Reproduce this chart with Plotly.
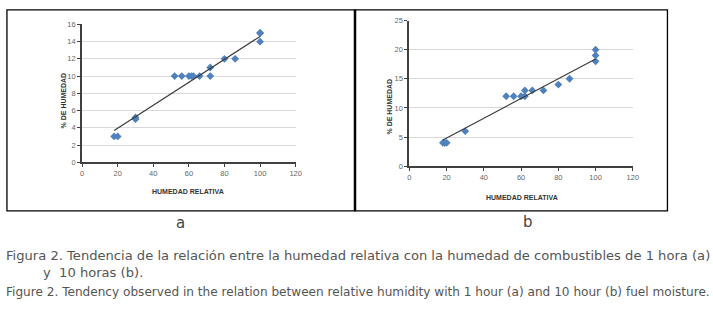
import plotly.graph_objects as go

# ---- data: panel a (1 hour fuel) ----
a_hr = [18, 20, 30, 30, 52, 56, 60, 61.5, 62.5, 66, 72, 72, 80, 86, 100, 100, 100]
a_hum = [3, 3, 5, 5.2, 10, 10, 10, 10, 10, 10, 10, 11, 12, 12, 14, 15, 15]
a_trend_x = [18, 100]
a_trend_y = [3.7, 14.6]

# ---- data: panel b (10 hour fuel) ----
b_hr = [18, 19, 20, 30, 52, 56, 60, 62, 62, 66, 72, 80, 86, 100, 100, 100]
b_hum = [4, 4, 4, 6, 12, 12, 12, 12, 13, 13, 13, 14, 15, 18, 19, 20]
b_trend_x = [18, 100]
b_trend_y = [4.5, 18.4]

x_ticks = [0, 20, 40, 60, 80, 100, 120]
a_y_ticks = [0, 2, 4, 6, 8, 10, 12, 14, 16]
b_y_ticks = [0, 5, 10, 15, 20, 25]

x_title = "HUMEDAD RELATIVA"
y_title = "% DE HUMEDAD"
panel_labels = ["a", "b"]
caption_es_1 = "Figura 2. Tendencia de la relación entre la humedad relativa con la humedad de combustibles de 1 hora (a)"
caption_es_2 = "y  10 horas (b)."
caption_en = "Figure 2. Tendency observed in the relation between relative humidity with 1 hour (a) and 10 hour (b) fuel moisture."

W, H = 713, 311
def px(x):
    return x / W
def py(y):
    return 1 - y / H

MARK = "#4F81BD"
fig = go.Figure()
fig.add_trace(go.Scatter(x=a_hr, y=a_hum, mode="markers", xaxis="x", yaxis="y",
                         marker=dict(symbol="diamond", size=6, color=MARK), showlegend=False))
fig.add_trace(go.Scatter(x=a_trend_x, y=a_trend_y, mode="lines", xaxis="x", yaxis="y",
                         line=dict(color="#3a3a3a", width=1.2), showlegend=False))
fig.add_trace(go.Scatter(x=b_hr, y=b_hum, mode="markers", xaxis="x2", yaxis="y2",
                         marker=dict(symbol="diamond", size=6, color=MARK), showlegend=False))
fig.add_trace(go.Scatter(x=b_trend_x, y=b_trend_y, mode="lines", xaxis="x2", yaxis="y2",
                         line=dict(color="#3a3a3a", width=1.2), showlegend=False))

tickfont = dict(family="Liberation Sans, Arial", size=7.5, color="#666666")
common_x = dict(range=[0, 120], tickvals=x_ticks, showgrid=False, zeroline=False,
                showline=True, linecolor="#404040", linewidth=2, ticks="outside",
                ticklen=3, tickcolor="#404040", tickfont=tickfont, fixedrange=True)
common_y = dict(showgrid=True, gridcolor="#d9d9d9", gridwidth=1, zeroline=False,
                showline=True, linecolor="#404040", linewidth=2, ticks="outside",
                ticklen=3, tickcolor="#404040", tickfont=tickfont, fixedrange=True)

fig.update_layout(
    width=W, height=H, margin=dict(l=0, r=0, t=0, b=0),
    paper_bgcolor="white", plot_bgcolor="white",
    xaxis=dict(domain=[px(81), px(297)], anchor="y", **common_x),
    yaxis=dict(domain=[py(163), py(21)], anchor="x", range=[0, 16], tickvals=a_y_ticks, **common_y),
    xaxis2=dict(domain=[px(412), px(638)], anchor="y2", **common_x),
    yaxis2=dict(domain=[py(167), py(17)], anchor="x2", range=[0, 25], tickvals=b_y_ticks, **common_y),
)

titlefont = dict(family="Liberation Sans, Arial", size=7, color="#333333")
ann = []
ann.append(dict(x=px(188), y=py(193), text="<b>" + x_title + "</b>", font=titlefont))
ann.append(dict(x=px(526), y=py(199), text="<b>" + x_title + "</b>", font=titlefont))
ann.append(dict(x=px(62), y=py(99), text="<b>" + y_title + "</b>", font=titlefont, textangle=-90))
ann.append(dict(x=px(392), y=py(106), text="<b>" + y_title + "</b>", font=titlefont, textangle=-90))
labfont = dict(family="DejaVu Sans, Lato", size=15, color="#444444")
ann.append(dict(x=px(181), y=py(226), text=panel_labels[0], font=labfont))
ann.append(dict(x=px(532), y=py(225), text=panel_labels[1], font=labfont))
capfont1 = dict(family="DejaVu Sans", size=13.1, color="#555555")
capfont2 = dict(family="DejaVu Sans", size=12.1, color="#555555")
ann.append(dict(x=px(2), y=py(259), text=caption_es_1, font=capfont1, xanchor="left"))
ann.append(dict(x=px(39), y=py(277), text=caption_es_2, font=capfont1, xanchor="left"))
ann.append(dict(x=px(2), y=py(297), text=caption_en, font=capfont2, xanchor="left"))
for a in ann:
    a.setdefault("xanchor", "center")
    a.update(xref="paper", yref="paper", yanchor="middle", showarrow=False)
fig.update_layout(annotations=ann)

shapes = [
    dict(type="rect", x0=px(5), x1=px(357), y0=py(213), y1=py(6), line=dict(color="black", width=1.3)),
    dict(type="rect", x0=px(357), x1=px(673), y0=py(213), y1=py(6), line=dict(color="black", width=1.3)),
    dict(type="line", x0=px(357), x1=px(357), y0=py(213), y1=py(6), line=dict(color="black", width=2.5)),
]
for s in shapes:
    s.update(xref="paper", yref="paper")
fig.update_layout(shapes=shapes)

fig.write_html("out.html", config={"displayModeBar": False},
               post_script="document.body.style.margin='0';document.body.style.overflow='hidden';")
